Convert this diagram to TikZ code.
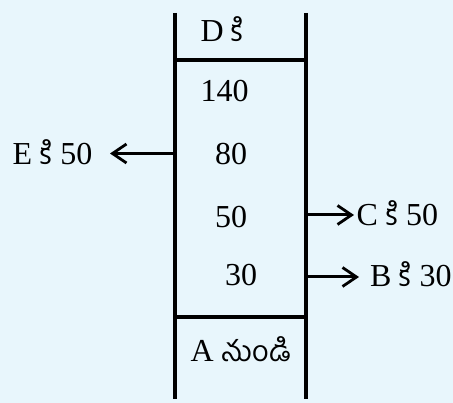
\documentclass[tikz,border=0pt]{standalone}
\usepackage{fontspec}
\setmainfont{Liberation Serif}
\newfontfamily\telugufont[Script=Telugu,Scale=0.9]{Hind Guntur}
\usepackage{xcolor}
\usetikzlibrary{arrows.meta}
\definecolor{bg}{HTML}{E8F6FC}
\newcommand{\tel}[1]{{\telugufont #1}}
\tikzset{
  wall/.style={line width=4pt, black},
  flow/.style={-{Straight Barb[length=14pt, width=19pt, line width=2.8pt]}, line width=3pt, black},
  amount/.style={anchor=base west, inner sep=0pt, font=\fontsize{32}{36}\selectfont}
}
\begin{document}
\begin{tikzpicture}[x=1pt, y=-1pt]
  % Background
  \fill[bg] (0,0) rectangle (453,403);
  \useasboundingbox (0,0) rectangle (453,403);

  % Column walls
  \coordinate (topL) at (174.5,13);
  \coordinate (botL) at (174.5,399);
  \coordinate (topR) at (305.5,13);
  \coordinate (botR) at (305.5,399);
  \draw[wall] (topL) -- (botL);
  \draw[wall] (topR) -- (botR);
  \draw[wall] (174.5,60) -- (305.5,60);
  \draw[wall] (174.5,317) -- (305.5,317);

  % Entries
  \node[amount] (to D) at (200.5,42) {D \tel{కి}};
  \node[amount] (v140) at (200.5,102) {140};
  \node[amount] (v80) at (215,165) {80};
  \node[amount] (v50) at (215,228) {50};
  \node[amount] (v30) at (225,286) {30};
  \node[amount] (from A) at (190.5,362) {A \tel{నుండి}};

  % Outgoing amounts
  \node[amount] (to E) at (12.5,165) {E \tel{కి} 50};
  \node[amount] (to C) at (356.5,226) {C \tel{కి} 50};
  \node[amount] (to B) at (370,287) {B \tel{కి} 30};

  \coordinate (eStart) at (172.5,153.5);
  \coordinate (eEnd) at (110,153.5);
  \coordinate (cStart) at (307.5,215);
  \coordinate (cEnd) at (354,215);
  \coordinate (bStart) at (307.5,277);
  \coordinate (bEnd) at (359,277);
  \draw[flow] (eStart) -- (eEnd);
  \draw[flow] (cStart) -- (cEnd);
  \draw[flow] (bStart) -- (bEnd);
\end{tikzpicture}
\end{document}
